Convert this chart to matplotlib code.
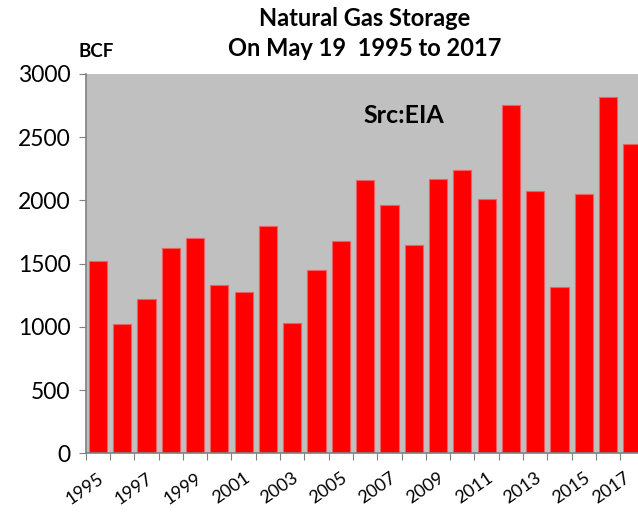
import numpy as np
import matplotlib
matplotlib.use("Agg")
import matplotlib.pyplot as plt
from matplotlib.transforms import ScaledTranslation

years = list(range(1995, 2018))
storage = [1523, 1020, 1220, 1621, 1703, 1329, 1276, 1795, 1028, 1450, 1679,
           2164, 1961, 1650, 2167, 2238, 2009, 2755, 2077, 1313, 2051, 2818, 2444]
yticks = [0, 500, 1000, 1500, 2000, 2500, 3000]

plt.rcParams['font.family'] = ['Lato', 'DejaVu Sans']

fig = plt.figure(figsize=(6.38, 5.13), dpi=100)
ax = fig.add_axes([0.1343, 0.1164, 0.876, 0.7394])
ax.set_facecolor('#C0C0C0')

x = np.arange(len(years))
ax.bar(x, storage, width=0.75, color='#FF0000', edgecolor='#F06060', linewidth=0.8, zorder=2)

ax.set_xlim(-0.5, len(years) - 0.5)
ax.set_ylim(0, 3000)
ax.set_yticks(yticks)
ax.set_yticklabels([str(v) for v in yticks], fontsize=16.5)

# ticks on the category boundaries, labels every second year
ax.set_xticks(np.arange(len(years)) - 0.5)
ax.set_xticklabels([])
ax.set_xticks(x[::2], minor=True)
ax.set_xticklabels([str(y) for y in years[::2]], minor=True, fontsize=13,
                   rotation=35, ha='right', va='top', rotation_mode='anchor')
ax.tick_params(axis='x', which='minor', length=0, pad=12)
ax.tick_params(axis='x', which='major', length=5, color='#808080', direction='out')
ax.tick_params(axis='y', length=5, color='#808080', direction='out', pad=6)

# last label pulled in a little so it stays in the picture
last = ax.get_xticklabels(minor=True)[-1]
last.set_transform(last.get_transform() + ScaledTranslation(-0.09, 0, fig.dpi_scale_trans))

for s in ['top', 'right']:
    ax.spines[s].set_visible(False)
for s in ['left', 'bottom']:
    ax.spines[s].set_color('#808080')
    ax.spines[s].set_linewidth(1.2)

fig.text(0.571, 0.963, 'Natural Gas Storage', ha='center', va='center',
         fontsize=17, fontweight='bold')
fig.text(0.571, 0.906, 'On May 19  1995 to 2017', ha='center', va='center',
         fontsize=17, fontweight='bold')
fig.text(0.150, 0.900, 'BCF', ha='center', va='center', fontsize=13.5, fontweight='bold')
ax.text(0.569, 0.89, 'Src:EIA', transform=ax.transAxes, ha='center', va='center',
        fontsize=18, fontweight='bold')

fig.savefig('out.png', dpi=100)
